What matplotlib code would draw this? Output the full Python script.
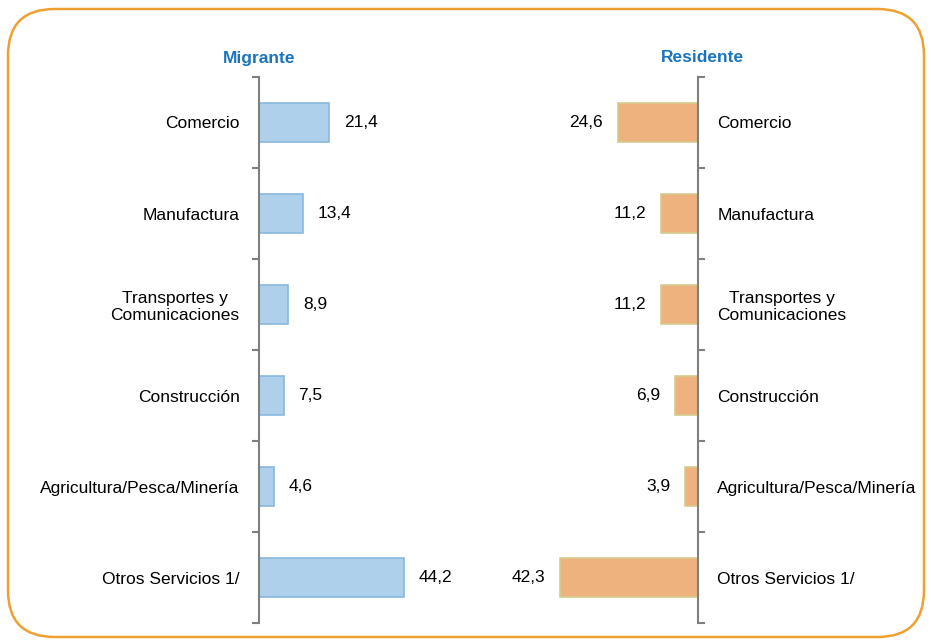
import matplotlib.pyplot as plt
from matplotlib.patches import FancyBboxPatch
from matplotlib import font_manager

categorias = ["Comercio", "Manufactura", "Transportes y\nComunicaciones",
              "Construcción", "Agricultura/Pesca/Minería", "Otros Servicios 1/"]
migrante = [21.4, 13.4, 8.9, 7.5, 4.6, 44.2]
residente = [24.6, 11.2, 11.2, 6.9, 3.9, 42.3]
etiq_migrante = ["21,4", "13,4", "8,9", "7,5", "4,6", "44,2"]
etiq_residente = ["24,6", "11,2", "11,2", "6,9", "3,9", "42,3"]

nombres = [f.name for f in font_manager.fontManager.ttflist]
fuente = "Liberation Sans Narrow" if "Liberation Sans Narrow" in nombres else "Liberation Sans"
plt.rcParams['font.family'] = [fuente, 'DejaVu Sans']

W, H = 931, 644
fig = plt.figure(figsize=(W / 100, H / 100), dpi=100)

# borde redondeado naranja
borde = FancyBboxPatch((8 / W, 7 / H), 916 / W, 628 / H,
                       boxstyle="round,pad=0,rounding_size=0.05",
                       transform=fig.transFigure, fill=False,
                       edgecolor="#F0A030", linewidth=1.8, mutation_aspect=W / H)
fig.patches.append(borde)

escala = 3.27  # px por unidad
xmax = 60
bottom = (H - 623) / H
height = 546 / H
ax1 = fig.add_axes([259 / W, bottom, xmax * escala / W, height])
ax2 = fig.add_axes([(698 - xmax * escala) / W, bottom, xmax * escala / W, height])

pos = list(range(len(categorias)))
gris = "#7F7F7F"

for ax, vals, etiq, fc, ec, lado in [
        (ax1, migrante, etiq_migrante, "#AED0EA", "#88B9E0", "left"),
        (ax2, residente, etiq_residente, "#EDB27E", "#D4CC8E", "right")]:
    ax.barh(pos, vals, height=0.43, color=fc, edgecolor=ec, linewidth=1.2)
    ax.set_ylim(5.5, -0.5)
    ax.set_xlim(0, xmax)
    for s in ["top", "bottom", "left", "right"]:
        ax.spines[s].set_visible(False)
    ax.spines[lado].set_visible(True)
    ax.spines[lado].set_color(gris)
    ax.spines[lado].set_linewidth(1.5)
    ax.set_xticks([])
    ax.set_yticks(pos)
    ax.set_yticklabels(categorias, fontsize=12.5, multialignment="center")
    ax.set_yticks([p - 0.5 for p in pos] + [5.5], minor=True)
    ax.tick_params(axis="y", which="major", length=0, pad=14)
    ax.tick_params(axis="y", which="minor", length=5, width=1.5, color=gris)
    if lado == "right":
        ax.yaxis.tick_right()
        ax.invert_xaxis()
        for v, t, p in zip(vals, etiq, pos):
            ax.text(v + 4.5, p, t, ha="right", va="center", fontsize=12.5)
    else:
        for v, t, p in zip(vals, etiq, pos):
            ax.text(v + 4.5, p, t, ha="left", va="center", fontsize=12.5)
    ax.patch.set_alpha(0)

fig.text(259 / W, (H - 58) / H, "Migrante", ha="center", va="center",
         fontsize=12.5, fontweight="bold", color="#1A75BC")
fig.text(702 / W, (H - 58) / H, "Residente", ha="center", va="center",
         fontsize=12.5, fontweight="bold", color="#1A75BC")

fig.savefig("out.png", dpi=100)
